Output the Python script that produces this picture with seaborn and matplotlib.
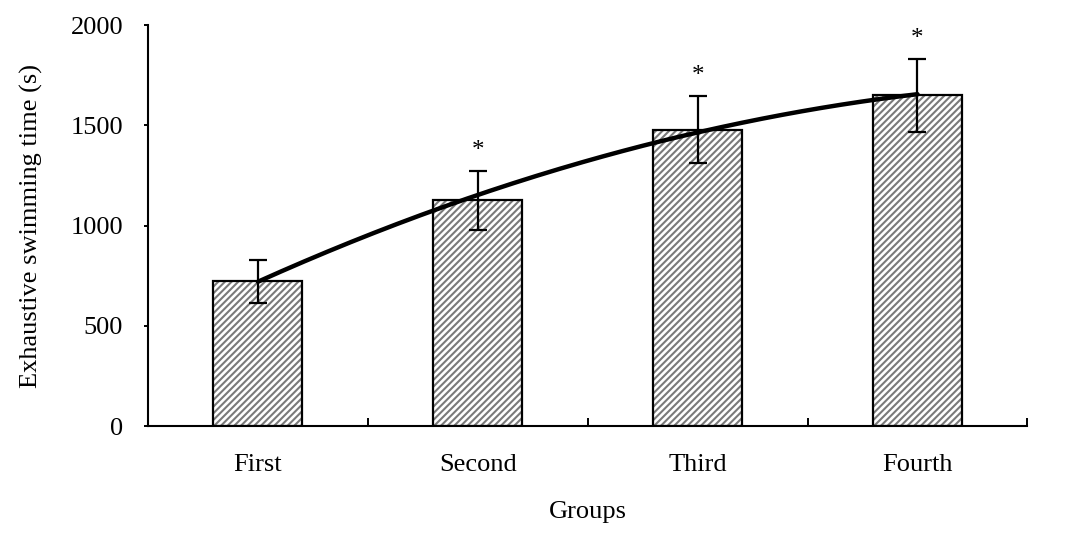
import numpy as np
import pandas as pd
import matplotlib
matplotlib.use("Agg")
import matplotlib.pyplot as plt
import seaborn as sns

groups = ["First", "Second", "Third", "Fourth"]
means = [722, 1125, 1478, 1650]
errors = [108, 147, 167, 182]
trend = [720, 1152, 1465, 1655]
stars = ["", "*", "*", "*"]
yticks = [0, 500, 1000, 1500, 2000]

sns.set_theme(style="white")
plt.rcParams["font.family"] = ["Liberation Serif", "DejaVu Serif"]
plt.rcParams["hatch.linewidth"] = 1.5
plt.rcParams["text.color"] = "black"
plt.rcParams["axes.labelcolor"] = "black"
plt.rcParams["xtick.color"] = "black"
plt.rcParams["ytick.color"] = "black"

df = pd.DataFrame({"group": groups, "mean": means, "err": errors})

fig = plt.figure(figsize=(10.91, 5.33), dpi=100)
ax = fig.add_axes([0.1357, 0.2007, 0.806, 0.7523])

# hatched fill
sns.barplot(data=df, x="group", y="mean", ax=ax, width=0.405, color="white",
            edgecolor="#7a7a7a", linewidth=0, hatch="/////", errorbar=None)
# black outlines
sns.barplot(data=df, x="group", y="mean", ax=ax, width=0.405, fill=False,
            edgecolor="black", linewidth=1.6, errorbar=None)

x = np.arange(len(groups))
ax.errorbar(x, means, yerr=errors, fmt="none", ecolor="black", elinewidth=1.6,
            capsize=6.5, capthick=1.6, zorder=5)

coef = np.polyfit(x, trend, 2)
xf = np.linspace(0, 3, 200)
ax.plot(xf, np.polyval(coef, xf), color="black", lw=3.2, zorder=6)

for xi, m, e, s in zip(x, means, errors, stars):
    if s:
        ax.text(xi, m + e + 45, s, ha="center", va="bottom", fontsize=18)

ax.set_xlim(-0.5, 3.5)
ax.set_ylim(0, 2000)
ax.set_yticks(yticks)
ax.set_xticks(x)
ax.set_xticklabels(groups)
ax.set_xticks([0.5, 1.5, 2.5, 3.5], minor=True)
ax.tick_params(axis="x", which="major", length=0, labelsize=19, pad=20)
ax.tick_params(axis="x", which="minor", direction="in", length=6, width=1.4,
               bottom=True, color="black")
ax.tick_params(axis="y", direction="out", length=3, width=1.4, left=True,
               color="black", labelsize=19, pad=15)

for side in ["top", "right"]:
    ax.spines[side].set_visible(False)
for side in ["left", "bottom"]:
    ax.spines[side].set_color("black")
    ax.spines[side].set_linewidth(1.5)

ax.set_xlabel("Groups", fontsize=19, labelpad=18)
ax.set_ylabel("Exhaustive swimming time (s)", fontsize=19, labelpad=20)

fig.savefig("out.png", dpi=100)
